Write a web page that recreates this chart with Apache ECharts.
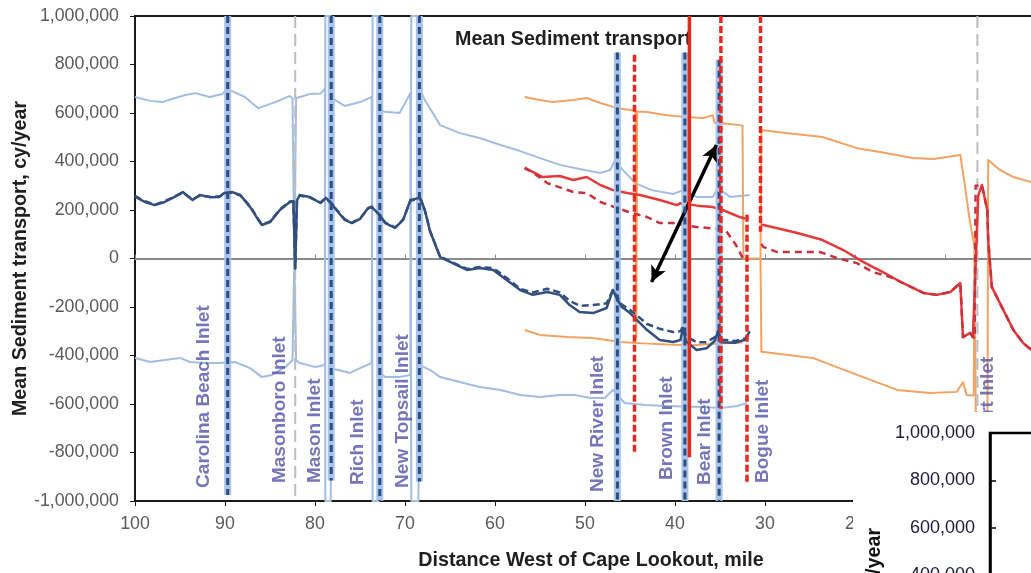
<!DOCTYPE html>
<html>
<head>
<meta charset="utf-8">
<script src="https://cdn.jsdelivr.net/npm/echarts@6/dist/echarts.min.js"></script>
<style>html,body{margin:0;padding:0;background:#fff;overflow:hidden;width:1031px;height:573px;}#c{width:1200px;height:1000px;}</style>
</head>
<body>
<div id="c"></div>
<script>
// ---------- DATA (miles west of Cape Lookout, cy/year) ----------
const xTicks = [0, 10, 20, 30, 40, 50, 60, 70, 80, 90, 100];
const yTicks = [-1000000, -800000, -600000, -400000, -200000, 0, 200000, 400000, 600000, 800000, 1000000];

const lightBlueUpper = [[100,666000],[98.3,650000],[97.0,645000],[95.9,658000],[94.4,674000],[93.3,682000],[91.7,666000],[90.3,678000],[90.0,690000],[89.2,690000],[87.8,666000],[86.3,620000],[84.4,645000],[82.8,670000],[82.5,660000],[82.3,0],[82.1,662000],[81.5,668000],[80.6,678000],[79.4,680000],[78.9,700000],[78.85,-1000000],[78.25,-1000000],[78.2,660000],[77.8,654000],[76.7,629000],[75.0,645000],[73.7,666000],[73.6,-1000000],[72.9,-1000000],[72.8,610000],[72.2,605000],[70.6,600000],[69.4,682000],[69.3,-1000000],[68.5,-1000000],[68.4,700000],[67.8,654000],[66.1,550000],[63.9,517000],[61.7,497000],[59.4,468000],[57.2,443000],[55.0,414000],[52.8,386000],[50.6,369000],[48.3,353000],[47.2,365000],[46.7,402000],[45.6,357000],[44.4,311000],[42.6,282000],[40.2,266000],[39.1,282000],[37.6,254000],[35.8,254000],[35.2,291000],[33.9,254000],[31.7,262000]];

const lightBlueLower = [[100,-410000],[98.3,-427000],[96.7,-419000],[95.0,-410000],[93.9,-427000],[92.2,-431000],[90.6,-431000],[88.9,-427000],[87.2,-452000],[85.9,-489000],[84.8,-480000],[83.3,-447000],[82.5,-420000],[82.3,0],[82.1,-420000],[81.7,-431000],[80.0,-447000],[78.9,-439000],[78.85,1000000],[78.25,1000000],[78.2,-455000],[77.4,-460000],[76.1,-472000],[75.0,-452000],[73.7,-431000],[73.6,1000000],[72.9,1000000],[72.8,-470000],[72.2,-489000],[70.6,-489000],[69.4,-480000],[69.3,1000000],[68.5,1000000],[68.4,-439000],[67.2,-460000],[66.1,-489000],[63.9,-509000],[61.7,-530000],[59.4,-542000],[57.2,-563000],[55.0,-571000],[52.8,-563000],[51.1,-563000],[49.4,-575000],[47.8,-575000],[46.9,-542000],[45.6,-596000],[43.3,-604000],[41.1,-608000],[39.1,-610000],[37.0,-612000],[34.7,-616000],[33.1,-608000],[32.0,-596000]];

const navyMean = [[100,255000],[98.9,233000],[97.8,220000],[96.7,233000],[95.6,254000],[94.7,274000],[93.6,241000],[92.8,262000],[91.7,253000],[90.6,254000],[90.1,270000],[89.2,274000],[88.3,262000],[87.2,212000],[86.3,159000],[85.9,138000],[85.0,150000],[83.9,200000],[82.8,233000],[82.4,235000],[82.2,-40000],[82.0,240000],[81.7,262000],[80.6,254000],[79.4,229000],[78.8,250000],[78.2,230000],[77.8,208000],[76.7,159000],[75.9,146000],[75.0,163000],[74.1,208000],[73.7,212000],[72.8,180000],[72.2,146000],[71.1,126000],[70.2,159000],[69.4,241000],[68.4,250000],[68.2,240000],[67.8,200000],[67.2,110000],[66.1,6000],[64.7,-19000],[63.1,-47000],[61.7,-39000],[60.2,-47000],[58.7,-89000],[57.2,-130000],[55.8,-150000],[54.2,-138000],[52.8,-150000],[51.7,-192000],[50.6,-221000],[49.1,-225000],[47.6,-204000],[46.9,-130000],[46.4,-170000],[45.9,-200000],[45.0,-225000],[43.1,-295000],[41.7,-336000],[40.2,-344000],[39.4,-336000],[39.1,-287000],[38.8,-340000],[37.6,-377000],[36.5,-370000],[35.6,-340000],[35.2,-300000],[34.9,-345000],[33.3,-347000],[32.2,-335000],[31.7,-300000]];

const navyDashed = [[100,258000],[98.9,236000],[97.8,222000],[96.7,236000],[95.6,256000],[94.7,272000],[93.6,243000],[92.8,260000],[91.7,255000],[90.6,256000],[90.1,268000],[89.2,272000],[88.3,260000],[87.2,215000],[86.3,162000],[85.9,140000],[85.0,152000],[83.9,203000],[82.8,235000],[82.4,236000],[82.2,-40000],[82.0,238000],[81.7,260000],[80.6,252000],[79.4,231000],[78.8,248000],[78.2,228000],[77.8,210000],[76.7,162000],[75.9,148000],[75.0,165000],[74.1,206000],[73.7,214000],[72.8,178000],[72.2,148000],[71.1,128000],[70.2,161000],[69.4,238000],[68.4,248000],[68.2,238000],[67.8,198000],[67.2,112000],[66.1,8000],[64.7,-17000],[63.1,-43000],[61.7,-35000],[60.2,-40000],[58.7,-80000],[57.2,-125000],[55.8,-140000],[54.2,-125000],[52.8,-140000],[51.7,-175000],[50.6,-195000],[49.1,-192000],[47.6,-185000],[46.9,-130000],[46.4,-160000],[45.9,-190000],[45.0,-212000],[43.1,-270000],[41.7,-290000],[40.2,-303000],[39.4,-300000],[39.1,-280000],[38.8,-320000],[37.6,-345000],[36.5,-345000],[35.6,-325000],[35.2,-300000],[34.9,-335000],[33.3,-340000],[32.2,-330000],[31.7,-305000]];

const orangeUpper = [[56.7,666000],[55.0,654000],[53.6,645000],[51.3,654000],[49.8,662000],[48.3,641000],[46.4,620000],[45.0,612000],[44.4,610000],[44.3,-330000],[44.2,606000],[43.1,604000],[40.9,591000],[38.7,583000],[36.9,579000],[35.8,591000],[35.6,560000],[33.9,555000],[32.8,550000],[32.5,548000],[32.4,0],[30.5,0],[30.4,530000],[28.2,520000],[23.6,501000],[19.8,455000],[17.2,439000],[13.6,414000],[11.3,410000],[8.3,427000],[7.9,330000],[7.3,170000],[6.7,40000],[6.6,-560000],[6.5,-1000000],[5.3,-1000000],[5.2,406000],[3.9,365000],[2.4,336000],[0.4,315000]];

const orangeLowerWest = [[56.7,-295000],[55.0,-315000],[52.0,-324000],[49.1,-328000],[46.1,-344000],[43.5,-350000],[40.9,-355000],[38.0,-358000],[35.0,-350000],[33.0,-348000],[32.5,-345000]];
const orangeLowerEast = [[30.5,0],[30.4,-385000],[24.7,-410000],[19.1,-489000],[15.3,-542000],[11.7,-555000],[8.7,-550000],[8.0,-510000],[7.6,-563000],[6.8,-565000],[6.7,110000]];

const redMeanWest = [[56.7,371000],[55.8,357000],[54.7,336000],[52.8,340000],[51.3,324000],[49.8,336000],[48.3,303000],[46.9,282000],[45.3,270000],[43.9,262000],[41.7,241000],[39.8,220000],[39.4,228000],[37.5,218000],[35.8,212000],[34.7,200000],[32.8,171000],[32.2,165000]];
const redMeanEast = [[30.4,140000],[30.2,138000],[26.4,105000],[23.6,76000],[21.3,35000],[19.1,-14000],[16.9,-56000],[14.7,-101000],[12.4,-142000],[10.9,-150000],[9.4,-138000],[8.3,-101000],[8.0,-324000],[7.2,-307000],[6.9,-325000],[6.3,260000],[5.9,303000],[5.3,200000],[5.2,76000],[4.8,-117000],[3.9,-184000],[2.4,-295000],[1.3,-349000],[0.4,-377000]];

const redDashWest = [[56.7,375000],[55.8,355000],[54.2,311000],[51.3,274000],[49.8,270000],[48.3,233000],[46.4,208000],[45.0,190000],[43.1,171000],[41.7,146000],[40.2,146000],[39.0,138000],[37.6,130000],[36.0,125000],[34.4,118000],[33.3,60000],[32.3,-10000]];
const redDashEast = [[30.4,60000],[30.2,48000],[28.7,27000],[23.9,27000],[22.0,2000],[19.8,-19000],[18.0,-56000],[16.1,-76000],[14.7,-101000],[12.4,-142000],[10.9,-150000],[9.4,-138000],[8.3,-101000],[8.0,-324000],[7.2,-307000],[6.7,-330000],[6.6,300000],[5.9,303000],[5.3,200000],[5.2,76000],[4.8,-117000],[3.9,-184000],[2.4,-295000],[1.3,-349000],[0.4,-377000]];

// inlet verticals: [mile, top, bottom]
const inletLines = [[89.7,1000000,-975000],[78.2,1000000,-915000],[72.8,1000000,-1000000],[68.4,1000000,-920000],[46.4,850000,-1000000],[38.9,850000,-1000000],[35.1,820000,-1000000]];
// red spikes: [mile, top, bottom, style]
const redLines = [[44.5,840000,-800000,'dashed'],[38.4,1000000,-820000,'solid'],[34.9,1000000,-620000,'dashed'],[32.0,180000,-930000,'dashed'],[30.5,1000000,110000,'dashed']];
const grayLines = [[82.2,1000000,-1000000],[6.4,1000000,-1000000]];

// inlet labels: [name, mile, value at text start]
const inletLabels = [['Carolina Beach Inlet',92.4,-946000],['Masonboro Inlet',83.9,-926000],['Mason Inlet',80.0,-926000],['Rich Inlet',75.2,-934000],['New Topsail Inlet',70.3,-946000],['New River Inlet',48.6,-963000],['Brown Inlet',40.9,-913000],['Bear Inlet',36.7,-934000],['Bogue Inlet',30.3,-926000],['Beaufort Inlet',5.3,-910000]];

const arrowEnds = [[42.6,-97000],[35.4,468000]];

// ---------- CHART ----------
const FF = '"Liberation Sans", Arial, sans-serif';
const fmt = v => v.toLocaleString('en-US');
const chart = echarts.init(document.getElementById('c'), null, {renderer: 'canvas'});

function line(data, color, width, type, z) {
  return {type: 'line', xAxisIndex: 0, yAxisIndex: 0, data: data, symbol: 'none', silent: true,
          lineStyle: {color: color, width: width, type: type || 'solid', cap: 'butt', join: 'round'}, z: z || 2};
}

const series = [];
series.push(line(lightBlueUpper, '#a3bde2', 2, 'solid', 2));
series.push(line(lightBlueLower, '#a3bde2', 2, 'solid', 2));
series.push(line(orangeUpper, '#f3a262', 2, 'solid', 2));
series.push(line(orangeLowerWest, '#f3a262', 2, 'solid', 2));
series.push(line(orangeLowerEast, '#f3a262', 2, 'solid', 2));
grayLines.forEach(g => series.push(line([[g[0], g[1]], [g[0], g[2]]], '#bdbdbd', 2, [12, 6], 3)));
series.push(line(redMeanWest, '#e33b3b', 2.5, 'solid', 3));
series.push(line(redMeanEast, '#e33b3b', 2.5, 'solid', 3));
series.push(line(redDashWest, '#c8323e', 2.5, [7, 5], 3));
series.push(line(redDashEast, '#c8323e', 2.5, [7, 5], 3));
inletLines.forEach(l => series.push(line([[l[0], l[1]], [l[0], l[2]]], '#a9c4e8', 7, 'solid', 4)));
const nm = line(navyMean, '#324f7d', 2.5, 'solid', 5);
nm.markLine = {silent: true, symbol: ['arrow', 'arrow'], symbolSize: [12, 16], label: {show: false},
  lineStyle: {color: '#000', width: 3.5, type: 'solid'},
  data: [[{coord: arrowEnds[0]}, {coord: arrowEnds[1]}]]};
series.push(nm);
series.push(line(navyDashed, '#324f7d', 2.5, [7, 4], 5));
inletLines.forEach(l => series.push(line([[l[0], l[1]], [l[0], l[2]]], '#2d4c80', 3, [7, 4], 6)));
redLines.forEach(r => series.push(line([[r[0], r[1]], [r[0], r[2]]], '#e52a22', 3.5, r[3] === 'dashed' ? [7, 3] : 'solid', 7)));
series.push({type: 'scatter', xAxisIndex: 0, yAxisIndex: 0, symbolSize: 1, silent: true, z: 8,
  itemStyle: {color: 'rgba(0,0,0,0)'},
  data: inletLabels.map(d => ({name: d[0], value: [d[1], d[2]]})),
  label: {show: true, position: 'inside', formatter: '{b}', rotate: 90, align: 'left', verticalAlign: 'middle',
    color: '#5353a8', fontSize: 19, fontWeight: 'bold', fontFamily: FF}});

const option = {
  animation: false,
  backgroundColor: '#fff',
  textStyle: {fontFamily: FF},
  title: {text: 'Mean Sediment transport', left: 455, top: 30, padding: 0,
    textStyle: {fontSize: 19.7, fontWeight: 'bold', color: '#1f1f1f', fontFamily: FF}},
  grid: [
    {left: 135, top: 16, width: 900, height: 485, show: true, borderColor: '#1a1a1a', borderWidth: 2, backgroundColor: 'rgba(0,0,0,0)', outerBoundsMode: 'none', containLabel: false},
    {left: 990, top: 433, width: 400, height: 475, show: true, borderColor: '#000', borderWidth: 2.5, backgroundColor: '#fff', z: 15, outerBoundsMode: 'none', containLabel: false}
  ],
  xAxis: [
    {gridIndex: 0, type: 'value', min: xTicks[0], max: xTicks[xTicks.length - 1], interval: 10, inverse: true,
     axisLine: {onZero: false, lineStyle: {color: '#1a1a1a', width: 2}},
     axisTick: {show: true, length: 5, lineStyle: {color: '#1a1a1a'}},
     axisLabel: {color: '#5a5a5a', fontSize: 17.8, margin: 14, fontFamily: FF},
     splitLine: {show: false},
     name: 'Distance West of Cape Lookout, mile', nameLocation: 'middle', nameGap: 50,
     nameTextStyle: {fontSize: 19.7, fontWeight: 'bold', color: '#1f1f1f', fontFamily: FF, padding: [0, 0, 0, 12]}},
    {gridIndex: 0, type: 'value', min: 0, max: 100, interval: 10, inverse: true, position: 'bottom',
     axisLine: {onZero: true, lineStyle: {color: '#8a8a8a', width: 2}},
     axisTick: {show: true, inside: true, length: 4, lineStyle: {color: '#8a8a8a'}},
     axisLabel: {show: false}, splitLine: {show: false}},
    {gridIndex: 1, type: 'value', min: 0, max: 1, show: false}
  ],
  yAxis: [
    {gridIndex: 0, type: 'value', min: yTicks[0], max: yTicks[yTicks.length - 1], interval: 200000,
     axisLine: {show: true, onZero: false, lineStyle: {color: '#1a1a1a', width: 2}},
     axisTick: {show: true, length: 5, lineStyle: {color: '#1a1a1a'}},
     axisLabel: {formatter: fmt, color: '#5a5a5a', fontSize: 17.8, margin: 16, fontFamily: FF},
     splitLine: {show: false},
     name: 'Mean Sediment transport, cy/year', nameLocation: 'middle', nameGap: 104, nameMoveOverlap: false,
     nameTextStyle: {fontSize: 19.7, fontWeight: 'bold', color: '#1f1f1f', fontFamily: FF}},
    {gridIndex: 1, type: 'value', min: yTicks[0], max: yTicks[yTicks.length - 1], interval: 200000, z: 20,
     axisLine: {show: true, onZero: false, lineStyle: {color: '#000', width: 2.5}},
     axisTick: {show: true, inside: true, length: 6, lineStyle: {color: '#000', width: 1.5}},
     axisLabel: {formatter: fmt, color: '#1c1c38', fontSize: 18, margin: 15, fontFamily: FF},
     splitLine: {show: false},
     name: 'Mean Sediment transport, cy/year', nameLocation: 'middle', nameGap: 103,
     nameTextStyle: {fontSize: 19.7, fontWeight: 'bold', color: '#111', fontFamily: FF, padding: [0, 30, 0, 0]}}
  ],
  graphic: [
    {type: 'rect', shape: {x: 853, y: 412, width: 400, height: 600}, style: {fill: '#fff'}, z: 10, silent: true}
  ],
  series: series
};
chart.setOption(option);
</script>
</body>
</html>
